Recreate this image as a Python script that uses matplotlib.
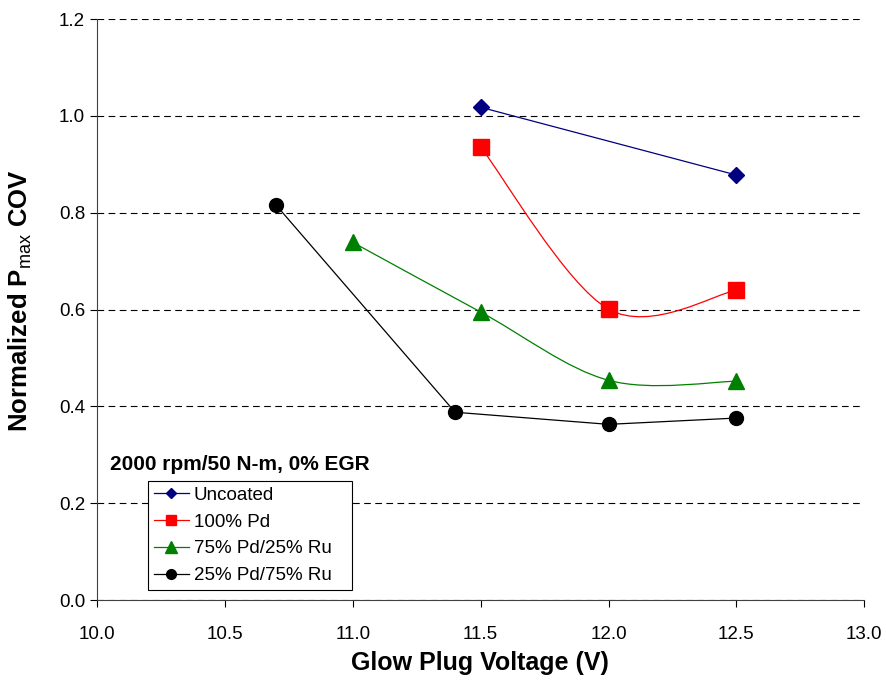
import numpy as np
import matplotlib.pyplot as plt
from matplotlib.path import Path
from matplotlib.patches import PathPatch

plt.rcParams['font.family'] = ['Liberation Sans', 'DejaVu Sans']
plt.rcParams['mathtext.fontset'] = 'custom'
plt.rcParams['mathtext.rm'] = 'Liberation Sans'

# glow plug voltage (V) and normalized Pmax COV per coating
v_unc = [11.5, 12.5]
cov_unc = [1.018, 0.878]
v_pd = [11.5, 12.0, 12.5]
cov_pd = [0.936, 0.601, 0.640]
v_7525 = [11.0, 11.5, 12.0, 12.5]
cov_7525 = [0.739, 0.595, 0.454, 0.452]
v_2575 = [10.7, 11.4, 12.0, 12.5]
cov_2575 = [0.816, 0.388, 0.363, 0.376]


def smooth_path(x, y):
    # Bezier smoothing through every point (tangent = neighbour difference / 6)
    p = np.column_stack([x, y])
    pts = np.vstack([p[0], p, p[-1]])
    verts = [p[0]]
    codes = [Path.MOVETO]
    for i in range(1, len(pts) - 2):
        c1 = pts[i] + (pts[i + 1] - pts[i - 1]) / 6
        c2 = pts[i + 1] - (pts[i + 2] - pts[i]) / 6
        verts += [c1, c2, pts[i + 1]]
        codes += [Path.CURVE4] * 3
    return Path(verts, codes)


fig = plt.figure(figsize=(8.87, 6.85), dpi=100)
ax = fig.add_axes([0.1094, 0.124, 0.865, 0.848])

ax.plot(v_unc, cov_unc, color='#000080', lw=0.9, marker='D', ms=8,
        label='Uncoated', zorder=4)

ax.add_patch(PathPatch(smooth_path(v_pd, cov_pd), fc='none', ec='#ff0000', lw=0.9, zorder=3))
ax.plot(v_pd, cov_pd, ls='none', color='#ff0000', marker='s', ms=11, zorder=4)
ax.plot([], [], color='#ff0000', lw=0.9, marker='s', ms=11, label='100% Pd')

ax.add_patch(PathPatch(smooth_path(v_7525, cov_7525), fc='none', ec='#008000', lw=0.9, zorder=3))
ax.plot(v_7525, cov_7525, ls='none', color='#008000', marker='^', ms=12, zorder=4)
ax.plot([], [], color='#008000', lw=0.9, marker='^', ms=12, label='75% Pd/25% Ru')

ax.plot(v_2575, cov_2575, color='black', lw=0.9, marker='o', ms=10,
        label='25% Pd/75% Ru', zorder=4)

ax.set_xlim(10.0, 13.0)
ax.set_ylim(0.0, 1.2)
ax.set_xticks(np.arange(10.0, 13.01, 0.5))
ax.set_yticks(np.arange(0.0, 1.21, 0.2))
ax.xaxis.set_major_formatter(plt.FormatStrFormatter('%.1f'))
ax.yaxis.set_major_formatter(plt.FormatStrFormatter('%.1f'))
ax.tick_params(labelsize=13.5, direction='out', length=5, width=0.8, colors='black')
ax.tick_params(axis='x', pad=14)

ax.grid(axis='y', color='black', ls=(0, (6, 4)), lw=0.8)
ax.set_axisbelow(True)
for side in ['top', 'right']:
    ax.spines[side].set_visible(False)
for side in ['left', 'bottom']:
    ax.spines[side].set_color('#404040')
    ax.spines[side].set_linewidth(0.8)

ax.set_xlabel('Glow Plug Voltage (V)', fontsize=18, fontweight='bold')
ax.set_ylabel(r'Normalized P$_{\mathrm{max}}$ COV', fontsize=18.5, fontweight='bold')
ax.xaxis.set_label_coords(0.4995, -0.088)
ax.yaxis.set_label_coords(-0.082, 0.516)

ax.text(10.05, 0.28, '2000 rpm/50 N-m, 0% EGR', fontsize=15, fontweight='bold',
        va='center', ha='left')

leg = ax.legend(loc='upper left', bbox_to_anchor=(0.0665, 0.205, 0.266, 0.0),
                mode='expand', fontsize=13.5, markerscale=0.7, handlelength=1.9,
                fancybox=False, framealpha=1, edgecolor='black', borderpad=0.3,
                labelspacing=0.52, handletextpad=0.25, borderaxespad=0)
leg.get_frame().set_linewidth(0.8)

fig.savefig('out.png', dpi=100)
